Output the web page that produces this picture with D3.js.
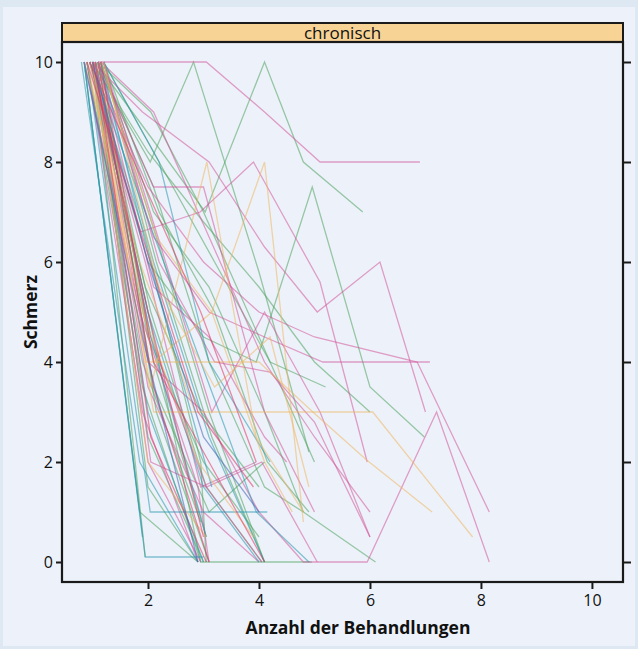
<!DOCTYPE html>
<html>
<head>
<meta charset="utf-8">
<script src="https://cdn.jsdelivr.net/npm/d3@7"></script>
<style>
  body { margin: 0; background: #dde8f3; }
  svg { display: block; }
</style>
</head>
<body>
<div id="chart"></div>
<script>
// Abmessungen
var width = 638;
var height = 649;
var margin = { top: 42, right: 15, bottom: 67, left: 62 };

// Daten: je Patient eine Liste von [Behandlung, Schmerz]
var gruen = [
  [[1.0,10],[2.04,8],[2.82,10],[4.0,5.8],[4.9,2.2]],
  [[1.05,10],[2.05,8.5],[3.03,7.0],[4.1,10],[4.8,8],[5.87,7.0]],
  [[0.95,10],[2.0,6.0],[3.0,4.5],[3.95,4.0],[4.96,7.5],[6.0,3.5],[6.98,2.5]],
  [[1.0,10],[1.95,0.1]],
  [[1.1,10],[2.1,4.0],[3.05,0.5]],
  [[0.9,10],[1.9,3.5],[2.95,0]],
  [[1.15,10],[2.15,6.5],[3.1,3.0],[4.1,0]],
  [[1.2,10],[2.2,7.0],[3.2,5.0],[4.15,2.0],[4.9,1.0]],
  [[1.0,10],[2.0,2.5],[3.0,0]],
  [[1.05,10],[2.05,5.0],[3.05,1.5],[4.05,0]],
  [[1.1,10],[2.1,7.5],[3.1,4.0],[4.1,1.5],[4.8,1.0],[6.1,0]],
  [[0.85,10],[1.85,1.0],[2.9,0]],
  [[1.2,10],[2.2,8.0],[3.2,6.0],[4.2,4.0],[5.2,3.5]],
  [[1.0,10],[2.0,4.5],[3.0,2.0],[4.0,0.5]],
  [[1.15,10],[2.15,3.0],[3.1,0]],
  [[0.95,10],[1.95,5.5],[2.95,3.0],[4.0,1.5]],
  [[1.1,10],[2.05,9.0],[3.0,7.0],[4.0,4.5],[5.0,2.0]],
  [[1.05,10],[2.0,1.5],[2.9,0]],
  [[1.2,10],[2.15,6.0],[3.15,2.5],[4.1,0]],
  [[0.9,10],[1.9,4.0],[2.95,0.8]],
  [[1.0,10],[2.0,8.2],[3.0,6.8],[4.0,5.5],[5.0,4.0],[6.0,3.0]],
  [[1.15,10],[2.1,7.0],[3.1,5.5],[4.1,3.0],[4.8,1.0]],
  [[1.0,10],[2.0,5.0],[2.95,0],[4.0,0],[4.95,0]],
  [[1.1,10],[2.1,3.5],[3.1,1.0],[4.1,2.0]],
  [[0.95,10],[1.95,6.5],[2.95,2.0],[3.05,0]]
];

var pink = [
  [[1.1,10],[2.05,10],[3.05,10],[4.1,9.0],[5.1,8.0],[6.9,8.0]],
  [[1.0,10],[1.9,9.0],[3.1,8.0],[4.1,6.3],[5.05,5.0],[6.18,6.0],[7.0,3.0]],
  [[0.95,10],[1.86,6.6],[2.94,7.0],[3.9,8.0],[5.1,5.6],[5.95,2.0]],
  [[1.05,10],[2.0,4.0],[3.0,3.0],[4.0,1.0],[4.8,0],[5.95,0],[7.2,3.0],[8.15,0]],
  [[1.1,10],[2.1,6.5],[3.1,5.0],[4.1,4.5],[5.15,4.0],[7.08,4.0]],
  [[1.0,10],[2.0,7.5],[3.0,6.0],[4.0,5.0],[5.0,4.5],[6.85,4.0],[8.15,1.0]],
  [[0.9,10],[1.9,3.0],[2.9,0]],
  [[1.2,10],[2.2,6.0],[3.2,4.0],[4.2,3.8],[5.0,2.8],[6.0,0.5]],
  [[1.0,10],[2.0,2.0],[2.95,0]],
  [[1.1,10],[2.1,7.5],[3.0,7.5],[4.1,3.0],[5.0,1.0]],
  [[1.05,10],[2.05,4.5],[3.05,1.5],[4.05,2.0],[5.05,0]],
  [[0.85,10],[1.85,5.0],[2.9,1.5],[3.1,0]],
  [[1.2,10],[2.15,6.6],[3.15,3.0],[4.1,5.0],[5.1,3.0],[6.0,0.5]],
  [[1.0,10],[2.0,3.5],[3.0,1.0],[4.0,0]],
  [[1.1,10],[2.1,5.5],[3.1,4.5],[4.1,2.5],[4.5,2.0]],
  [[0.95,10],[1.95,6.0],[2.95,1.5],[3.95,2.0]],
  [[1.15,10],[2.1,9.0],[3.1,6.5],[4.1,4.0],[5.0,2.5],[6.0,1.0]],
  [[1.05,10],[2.05,2.0],[3.05,1.5],[4.05,0]]
];

var tuerkis = [
  [[0.85,10],[1.95,0.1],[3.0,0.1]],
  [[0.9,10],[2.04,1.0],[3.05,1.0],[4.15,1.0]],
  [[1.0,10],[2.0,3.0],[3.0,0]],
  [[0.8,10],[1.85,2.0],[2.9,0]],
  [[1.1,10],[2.1,6.0],[3.1,2.5],[4.1,0]],
  [[1.05,10],[2.05,4.5],[3.05,0.5]],
  [[0.95,10],[1.95,7.0],[2.95,4.0],[3.95,1.0],[4.9,0]],
  [[1.15,10],[2.15,5.5],[3.15,1.5]],
  [[0.85,10],[1.9,0.5]],
  [[1.2,10],[2.2,8.0],[3.1,4.0],[4.2,2.0]],
  [[1.0,10],[2.0,5.0],[3.0,1.5],[4.0,0]]
];

var orange = [
  [[0.95,10],[2.05,3.5],[3.06,8.0],[3.95,2.5],[4.8,1.0]],
  [[1.1,10],[2.1,4.0],[3.15,5.0],[4.1,8.0],[4.8,0.8]],
  [[1.05,10],[2.1,3.0],[3.1,3.0],[4.1,3.0],[5.0,3.0],[6.05,3.0],[7.85,0.5]],
  [[1.0,10],[1.97,4.0],[3.0,4.0],[4.0,4.0],[4.97,3.0],[5.94,2.04],[7.12,1.0]],
  [[0.9,10],[1.9,5.0],[2.9,2.0],[3.9,0.5]],
  [[1.15,10],[2.15,6.5],[3.15,5.0],[4.1,2.0],[4.6,1.0]],
  [[1.0,10],[2.0,2.0],[3.05,0.5]],
  [[1.2,10],[2.2,5.5],[3.2,3.5],[4.2,4.5],[4.9,1.5]],
  [[0.85,10],[1.85,6.0],[2.85,3.0]]
];

var rot = [
  [[1.0,10],[2.0,5.0],[3.0,0.5]],
  [[1.1,10],[2.1,3.5],[3.1,0]],
  [[0.9,10],[1.9,6.5],[2.9,3.0],[3.9,1.5]],
  [[1.05,10],[2.05,2.5],[3.05,0]],
  [[1.15,10],[2.1,4.0],[3.1,2.0],[4.1,0]],
  [[0.95,10],[1.95,7.5],[2.95,5.0],[3.95,2.0]]
];

var blau = [
  [[0.85,10],[1.9,4.5],[2.9,0]],
  [[1.0,10],[2.0,6.0],[3.0,2.5],[4.0,1.0]]
];

var gruppen = [
  { linien: gruen, farbe: "#4ea35e" },
  { linien: pink, farbe: "#d1559b" },
  { linien: tuerkis, farbe: "#2a98ae" },
  { linien: orange, farbe: "#efb763" },
  { linien: rot, farbe: "#de3463" },
  { linien: blau, farbe: "#4363b8" }
];

var xTicks = [2, 4, 6, 8, 10];
var yTicks = [0, 2, 4, 6, 8, 10];
var stripText = "chronisch";
var xTitel = "Anzahl der Behandlungen";
var yTitel = "Schmerz";

var svg = d3.select("#chart")
  .append("svg")
  .attr("width", width)
  .attr("height", height);

// Hintergrund
svg.append("rect")
  .attr("x", 0).attr("y", 0)
  .attr("width", width).attr("height", height)
  .attr("fill", "#dde8f3");
svg.append("rect")
  .attr("x", 3).attr("y", 7)
  .attr("width", width - 6).attr("height", height - 10)
  .attr("fill", "#edf2fa");

var x = d3.scaleLinear()
  .domain([0.45, 10.56])
  .range([margin.left, width - margin.right]);

var y = d3.scaleLinear()
  .domain([-0.4, 10.4])
  .range([height - margin.bottom, margin.top]);

var plotB = width - margin.left - margin.right;
var plotH = height - margin.top - margin.bottom;

var schrift = "Open Sans, sans-serif";

// Streifen oben
svg.append("rect")
  .attr("x", margin.left).attr("y", 23)
  .attr("width", plotB).attr("height", margin.top - 23)
  .attr("fill", "#f8d396")
  .attr("stroke", "#1a1a1a")
  .attr("stroke-width", 2);

svg.append("text")
  .attr("x", margin.left + plotB / 2)
  .attr("y", 39)
  .attr("text-anchor", "middle")
  .style("font-family", schrift)
  .style("font-size", "17px")
  .attr("fill", "#111")
  .text(stripText);

// Linien
var linie = d3.line()
  .x(function(d) { return x(d[0]); })
  .y(function(d) { return y(d[1]); });

var g = svg.append("g");
gruppen.forEach(function(gr) {
  g.selectAll(null)
    .data(gr.linien)
    .enter()
    .append("path")
    .attr("d", linie)
    .attr("fill", "none")
    .attr("stroke", gr.farbe)
    .attr("stroke-width", 1.3)
    .attr("stroke-opacity", 0.55);
});

// Rahmen
svg.append("rect")
  .attr("x", margin.left).attr("y", margin.top)
  .attr("width", plotB).attr("height", plotH)
  .attr("fill", "none")
  .attr("stroke", "#1a1a1a")
  .attr("stroke-width", 2.2);

// Achsen
var xAchse = svg.append("g")
  .attr("transform", "translate(0," + (height - margin.bottom) + ")")
  .call(d3.axisBottom(x).tickValues(xTicks).tickSize(7).tickPadding(6));

var yAchse = svg.append("g")
  .attr("transform", "translate(" + margin.left + ",0)")
  .call(d3.axisLeft(y).tickValues(yTicks).tickSize(6).tickPadding(3));

var yRechts = svg.append("g")
  .attr("transform", "translate(" + (width - margin.right) + ",0)")
  .call(d3.axisRight(y).tickValues(yTicks).tickSize(8).tickFormat(""));

[xAchse, yAchse, yRechts].forEach(function(a) {
  a.select(".domain").remove();
  a.selectAll(".tick line").attr("stroke", "#1a1a1a").attr("stroke-width", 2);
  a.selectAll(".tick text")
    .style("font-family", schrift)
    .style("font-size", "16px")
    .attr("fill", "#111");
});

// Achsentitel
svg.append("text")
  .attr("x", 358)
  .attr("y", 634)
  .attr("text-anchor", "middle")
  .style("font-family", schrift)
  .style("font-size", "17.5px")
  .style("font-weight", "bold")
  .attr("fill", "#111")
  .text(xTitel);

svg.append("text")
  .attr("transform", "translate(37," + (margin.top + plotH / 2) + ") rotate(-90)")
  .attr("text-anchor", "middle")
  .style("font-family", schrift)
  .style("font-size", "17.5px")
  .style("font-weight", "bold")
  .attr("fill", "#111")
  .text(yTitel);
</script>
</body>
</html>
